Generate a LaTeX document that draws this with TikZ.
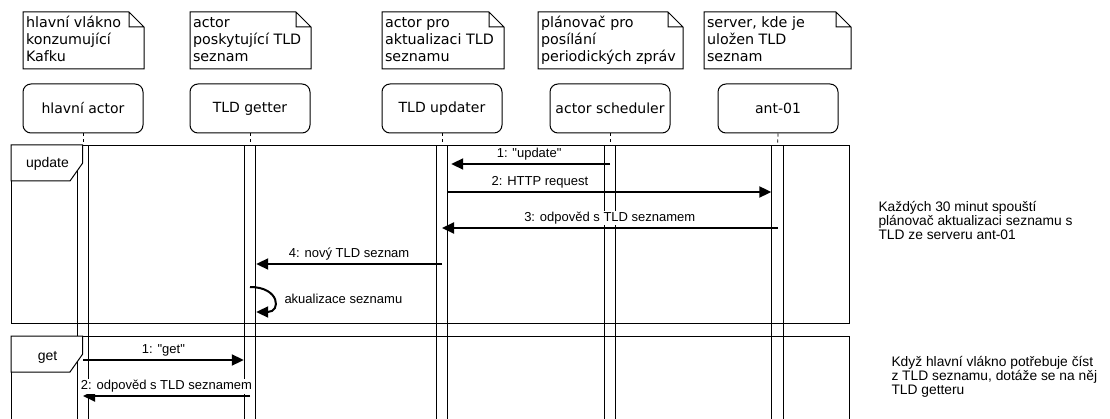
\documentclass[tikz,border=0pt]{standalone}
\usepackage{fontspec}
\setmainfont{Liberation Sans}
\newfontfamily\notefont{DejaVu Sans}
\usetikzlibrary{arrows.meta,calc}
\begin{document}
\begin{tikzpicture}[x=1pt,y=-1pt,
  line width=1pt,
  notebox/.style={minimum width=#1, minimum height=56, anchor=north west, inner sep=0pt},
  notetext/.style={anchor=north west, align=left, inner sep=0pt, font=\notefont\fontsize{14.3}{16.7}\selectfont},
  actorbox/.style={draw, rounded corners=8pt, minimum width=120, minimum height=49, inner sep=0pt, font=\notefont\fontsize{14}{16}\selectfont},
  bar/.style={draw, line width=0.9pt, minimum width=11.5, minimum height=290, anchor=north, inner sep=0pt},
  lifeline/.style={dash pattern=on 3pt off 3pt, line width=0.8pt},
  frame/.style={draw, anchor=north west, inner sep=0pt},
  tab/.style={draw, fill=white},
  tablabel/.style={inner sep=0pt, font=\fontsize{14}{16}\selectfont},
  msg/.style={line width=2pt, -{Triangle[length=12pt,width=11pt]}},
  lbl/.style={fill=white, inner sep=1pt, text height=9.5pt, text depth=2.8pt, font=\fontsize{13}{15}\selectfont},
  remark/.style={anchor=north west, align=left, inner sep=0pt, font=\fontsize{13.8}{14.2}\selectfont}
]
\useasboundingbox (0,0) rectangle (1110,419);
\fill[white] (0,0) rectangle (1110,419);

% notes above the participants
\node[notebox=120] (n1) at (23,12) {};
\node[notebox=120] (n2) at (190,12) {};
\node[notebox=121] (n3) at (382,12) {};
\node[notebox=144] (n4) at (538,12) {};
\node[notebox=146] (n5) at (704,12) {};
\foreach \n in {n1,n2,n3,n4,n5}
  \draw (\n.north west) -- ($(\n.north east)+(-15,0)$) -- ($(\n.north east)+(0,15)$)
        -- (\n.south east) -- (\n.south west) -- cycle
        ($(\n.north east)+(-15,0)$) -- ($(\n.north east)+(-15,15)$) -- ($(\n.north east)+(0,15)$);
\node[notetext] (t1) at ($(n1.north west)+(2.5,3.6)$) {\strut hlavní vlákno\\konzumující\\Kafku};
\node[notetext] (t2) at ($(n2.north west)+(2.5,3.6)$) {\strut actor\\poskytující TLD\\seznam};
\node[notetext] (t3) at ($(n3.north west)+(2.5,3.6)$) {\strut actor pro\\aktualizaci TLD\\seznamu};
\node[notetext] (t4) at ($(n4.north west)+(2.5,3.6)$) {\strut plánovač pro\\posílání\\periodických zpráv};
\node[notetext] (t5) at ($(n5.north west)+(2.5,3.6)$) {\strut server, kde je\\uložen TLD\\seznam};

% participants
\node[actorbox] (a1) at (83,108.5) {hlavní actor};
\node[actorbox] (a2) at (250,108.5) {TLD getter};
\node[actorbox] (a3) at (442,108.5) {TLD updater};
\node[actorbox] (a4) at (610,108.5) {actor scheduler};
\node[actorbox] (a5) at (778,108.5) {ant-01};

% combined fragments
\node[frame, minimum width=838, minimum height=178] (fu) at (11,145) {};
\node[frame, minimum width=838, minimum height=120] (fg) at (11,336) {};

% activation bars and lifelines
\node[bar] (b1) at (83,145) {};
\node[bar] (b2) at (250,145) {};
\node[bar] (b3) at (442,145) {};
\node[bar] (b4) at (610,145) {};
\node[bar] (b5) at (777.5,145) {};
\foreach \i in {1,...,5}
  \draw[lifeline] (a\i.south) -- (b\i.north);

% fragment tabs
\draw[tab] (fu.north west) -- ++(71.7,0) -- ++(0,18) -- ++(-12.7,18) -- ++(-59,0) -- cycle;
\node[tablabel] (tu) at (47.5,164) {update};
\draw[tab] (fg.north west) -- ++(71.7,0) -- ++(0,18) -- ++(-12.7,18) -- ++(-59,0) -- cycle;
\node[tablabel] (tg) at (47.5,357) {get};

% message rows
\coordinate (r1) at (0,164);
\coordinate (r2) at (0,192);
\coordinate (r3) at (0,228);
\coordinate (r4) at (0,264);
\coordinate (r5) at (0,287);
\coordinate (r6) at (0,312);
\coordinate (r7) at (0,360);
\coordinate (r8) at (0,396);

% update fragment
\draw[msg, shorten >=3pt] (b4 |- r1) -- node[lbl, above=1.5pt] {1: \textquotedbl update\textquotedbl} (b3.east |- r1);
\draw[msg] (b3.east |- r2) -- node[lbl, above=1.5pt, pos=0.284] {2: HTTP request} (b5.west |- r2);
\draw[msg] (b5 |- r3) -- node[lbl, above=1.5pt] {3: odpověd s TLD seznamem} (b3 |- r3);
\draw[msg] (b3 |- r4) -- node[lbl, above=1.5pt] {4: nový TLD seznam} (b2.east |- r4);
\draw[msg] (b2 |- r5) .. controls +(30,0) and +(25,0) .. (b2.east |- r6);
\node[lbl, anchor=west] (sl) at (283,300) {akualizace seznamu};

% get fragment
\draw[msg] (b1 |- r7) -- node[lbl, above=1.5pt] {1: \textquotedbl get\textquotedbl} (b2.west |- r7);
\draw[msg] (b2 |- r8) -- node[lbl, above=1.5pt] {2: odpověd s TLD seznamem} (b1 |- r8);

% side remarks
\node[remark] (c1) at (878,200.5) {Každých 30 minut spouští\\plánovač aktualizaci seznamu s\\TLD ze serveru ant-01};
\node[remark] (c2) at (891,355.5) {Když hlavní vlákno potřebuje číst\\z TLD seznamu, dotáže se na něj\\TLD getteru};
\end{tikzpicture}
\end{document}
